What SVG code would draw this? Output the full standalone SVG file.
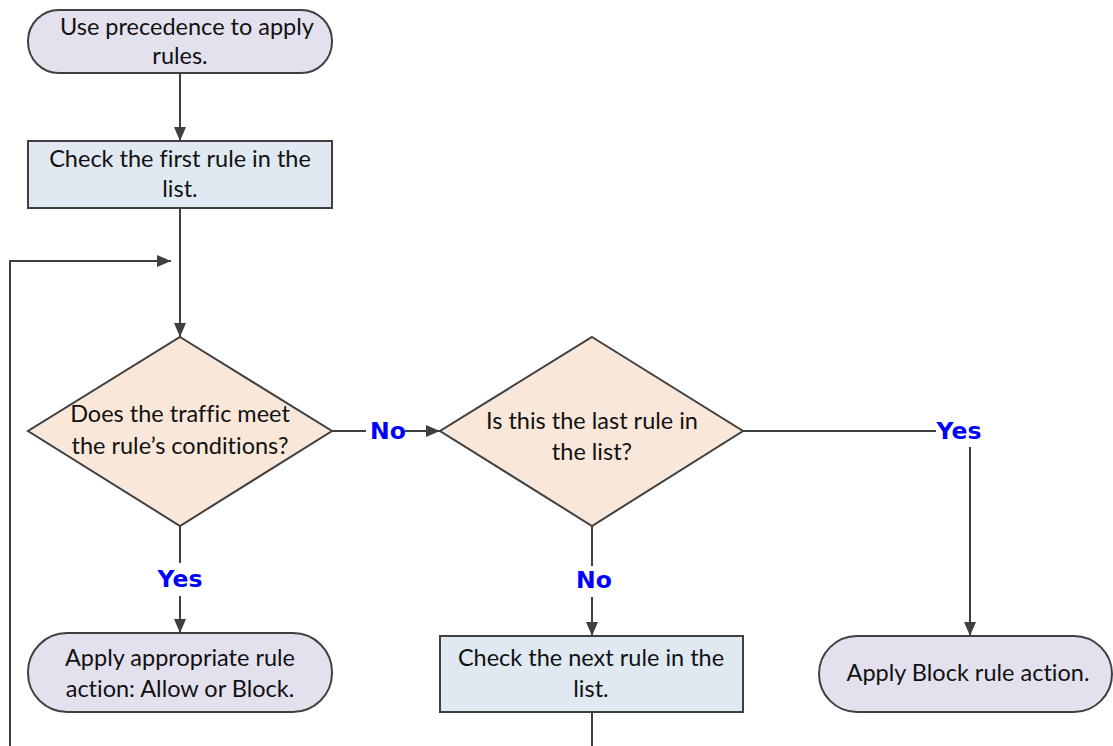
<svg xmlns="http://www.w3.org/2000/svg" width="1113" height="746" viewBox="0 0 1113 746">
<defs>
<marker id="arr" markerWidth="14" markerHeight="12" refX="14" refY="6" orient="auto" markerUnits="userSpaceOnUse">
<path d="M0,0 L14,6 L0,12 Z" fill="#404040"/>
</marker>
<style>
.term{fill:#e4e1ee;stroke:#404040;stroke-width:2}
.proc{fill:#e0e9f2;stroke:#404040;stroke-width:2}
.dec{fill:#f9e8da;stroke:#404040;stroke-width:2}
.t{font-family:Lato,"Open Sans",sans-serif;font-size:23.5px;fill:#111;text-anchor:middle;font-variant-ligatures:none}
.lbl{font-family:"DejaVu Sans",Verdana,sans-serif;font-weight:bold;font-size:23.5px;fill:#0000ff;text-anchor:middle}
.c{fill:none;stroke:#404040;stroke-width:2}
</style>
</defs>
<rect width="1113" height="746" fill="#ffffff"/>
<g id="connectors">
<path class="c" d="M180,73 V141" marker-end="url(#arr)"/>
<path class="c" d="M180,208 V337" marker-end="url(#arr)"/>
<path class="c" d="M10,746 V261 H171" marker-end="url(#arr)"/>
<path class="c" d="M332,431 H366"/>
<path class="c" d="M405,431 H440" marker-end="url(#arr)"/>
<path class="c" d="M743,431 H936"/>
<path class="c" d="M970,447 V636" marker-end="url(#arr)"/>
<path class="c" d="M180,526 V563"/>
<path class="c" d="M180,596 V633" marker-end="url(#arr)"/>
<path class="c" d="M592,526 V566"/>
<path class="c" d="M592,597 V636" marker-end="url(#arr)"/>
<path class="c" d="M592,712 V746"/>
<text class="lbl" x="388" y="439">No</text>
<text class="lbl" x="959" y="439">Yes</text>
<text class="lbl" x="180" y="587">Yes</text>
<text class="lbl" x="594" y="588">No</text>
</g>
<g id="start">
<rect class="term" x="28" y="10" width="304" height="63" rx="31" ry="31"/>
<text class="t" x="187" y="35">Use precedence to apply</text>
<text class="t" x="180" y="64">rules.</text>
</g>
<g id="check-first">
<rect class="proc" x="28" y="141" width="304" height="67"/>
<text class="t" x="180" y="167">Check the first rule in the</text>
<text class="t" x="180" y="197">list.</text>
</g>
<g id="decision-match">
<polygon class="dec" points="180,337 332,431 180,526 28,431"/>
<text class="t" x="180" y="422">Does the traffic meet</text>
<text class="t" x="180" y="454">the rule’s conditions?</text>
</g>
<g id="decision-last">
<polygon class="dec" points="592,337 743,431 592,526 440,431"/>
<text class="t" x="592" y="429">Is this the last rule in</text>
<text class="t" x="592" y="460">the list?</text>
</g>
<g id="apply-rule">
<rect class="term" x="28" y="633" width="304" height="79" rx="39" ry="39"/>
<text class="t" x="180" y="666">Apply appropriate rule</text>
<text class="t" x="180" y="697">action: Allow or Block.</text>
</g>
<g id="check-next">
<rect class="proc" x="440" y="636" width="303" height="76"/>
<text class="t" x="591" y="666">Check the next rule in the</text>
<text class="t" x="591" y="697">list.</text>
</g>
<g id="apply-block">
<rect class="term" x="819" y="636" width="293" height="76" rx="38" ry="38"/>
<text class="t" x="968" y="681">Apply Block rule action.</text>
</g>
</svg>
